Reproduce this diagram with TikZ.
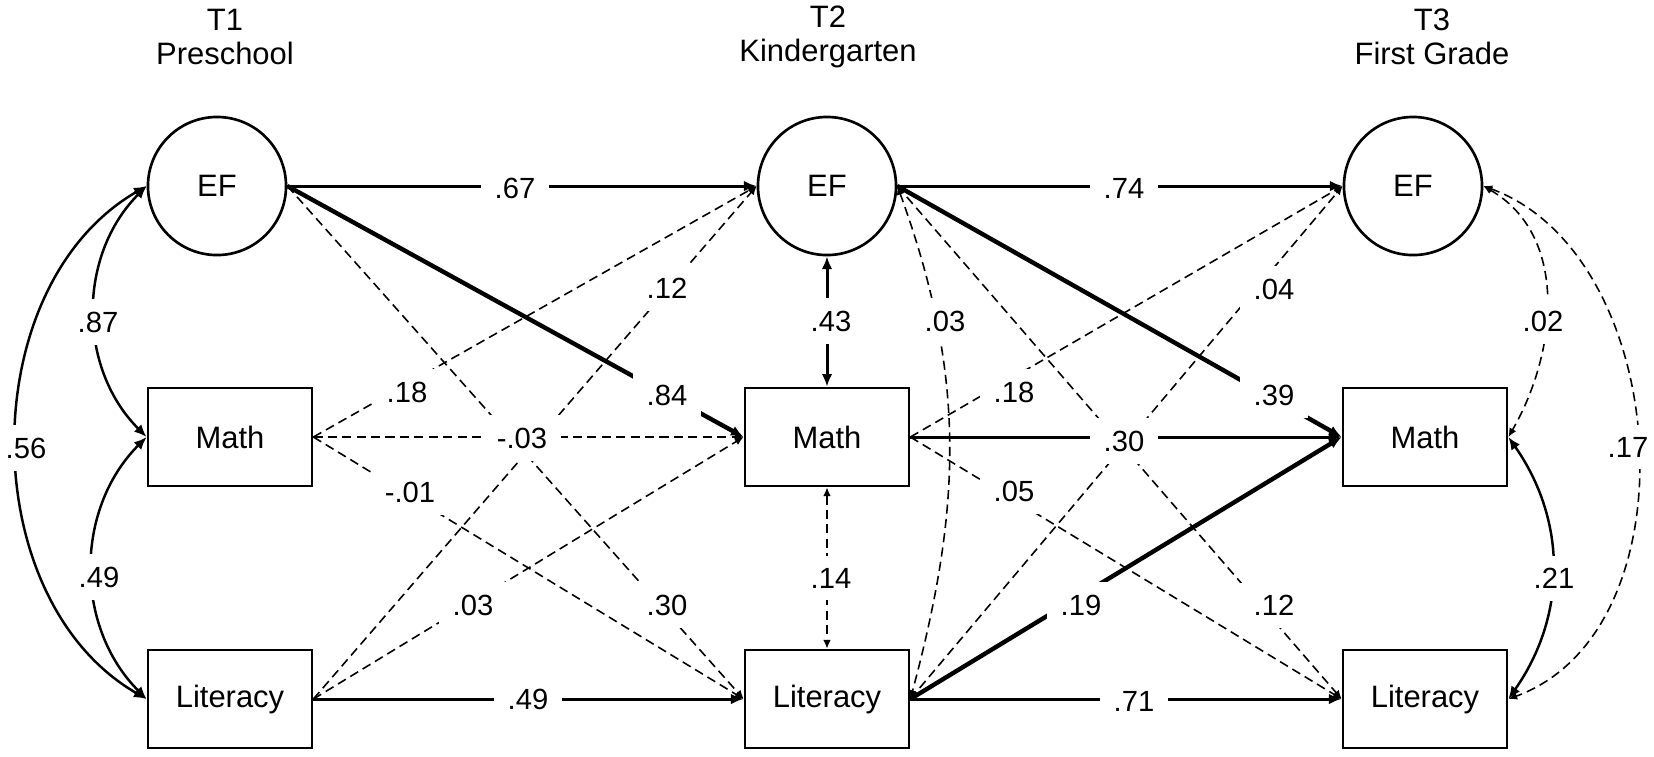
\documentclass[tikz,border=0pt]{standalone}
\usepackage{fontspec}
\setmainfont{Liberation Sans}
\usetikzlibrary{arrows.meta}
\usetikzlibrary{shapes}
\tikzstyle{latent}=[circle,draw,line width=0.75pt,minimum size=1.38cm,inner sep=0pt,font=\fontsize{8.8}{9.7}\selectfont]
\tikzstyle{observed}=[rectangle,draw,line width=0.75pt,minimum width=1.64cm,minimum height=0.98cm,inner sep=0pt,font=\fontsize{8.8}{9.7}\selectfont]
\tikzstyle{wave}=[align=center,inner sep=0pt,font=\fontsize{8.8}{9.6}\selectfont]
\tikzstyle{solidpath} = [draw,line width=0.85pt,->]
\tikzstyle{boldpath} = [draw,line width=1.25pt,->]
\tikzstyle{dashpath} = [draw,line width=0.45pt,dash pattern=on 2.6pt off 1.5pt,->,>={Latex[length=2.5pt,width=2.2pt]}]
\tikzstyle{covpath} = [draw,line width=0.7pt,<->]
\tikzstyle{coef} = [fill=white,inner xsep=4pt,inner ysep=3.5pt,font=\fontsize{8.3}{9.7}\selectfont]

\begin{document}
\begin{tikzpicture}[x=0.01cm, y=-0.01cm, >={Latex[length=3.6pt,width=3pt]}]
    % page size of the figure
    \useasboundingbox (0,0) rectangle (1654,756);

    % time points
    \foreach \pos/\name/\label in {{(225,37)/T1/{T1\\Preschool}}, {(828,37)/T2/{T2\\Kindergarten}}, {(1432,37)/T3/{T3\\First Grade}}}
        \node[wave] (\name) at \pos {\label};

    % First we draw the variables
    \foreach \pos/\name in {{(217,186)/EF1}, {(827,186)/EF2}, {(1413,186)/EF3}}
        \node[latent] (\name) at \pos {EF};

    \foreach \pos/\name/\label in {{(230,437)/M1/Math}, {(827,437)/M2/Math}, {(1425,437)/M3/Math}, {(230,699)/L1/Literacy}, {(827,699)/L2/Literacy}, {(1425,699)/L3/Literacy}}
        \node[observed] (\name) at \pos {\label};

    % Connect variables with cross-lagged paths
    \foreach \source/\dest in {EF1/EF2, L1/L2, EF2/EF3, M2/M3, L2/L3}
        \path[solidpath] (\source.east) -- (\dest.west);
    \foreach \source/\dest in {EF1/M2, EF2/M3, L2/M3}
        \path[boldpath] (\source.east) -- (\dest.west);
    \foreach \source/\dest in {EF1/L2, M1/EF2, M1/M2, M1/L2, L1/EF2, L1/M2, EF2/L3, M2/EF3, M2/L3, L2/EF3}
        \path[dashpath] (\source.east) -- (\dest.west);

    % covariances
    \path[covpath] (EF1.west) to[out=225,in=135] (M1.west);
    \path[covpath] (M1.west) to[out=225,in=135] (L1.west);
    \path[covpath] (EF1.west) to[out=210,in=150] (L1.west);
    \path[solidpath,<->] (EF2.south) -- (M2.north);
    \path[dashpath,<->] (M2.south) -- (L2.north);
    \path[dashpath,<->] (EF2.east) to[out=-70,in=75] (L2.east);
    \path[dashpath,<->] (EF3.east) to[out=-30,in=60] (M3.east);
    \path[dashpath,<->] (EF3.east) to[out=-20,in=20] (L3.east);
    \path[covpath] (M3.east) to[out=-55,in=55] (L3.east);

    % coefficients
    \foreach \pos/\label [count=\i] in {{(515,188)/.67}, {(667,395)/.84}, {(667,605)/.30}, {(407,392)/.18}, {(522,438)/-.03}, {(410,492)/-.01}, {(667,288)/.12}, {(473,605)/.03}, {(528,699)/.49},
        {(1124,188)/.74}, {(1274,395)/.39}, {(1274,605)/.12}, {(1014,392)/.18}, {(1124,441)/.30}, {(1014,491)/.05}, {(1274,289)/.04}, {(1081,605)/.19}, {(1134,701)/.71},
        {(831,321)/.43}, {(831,578)/.14}, {(945,321)/.03}, {(98,322)/.87}, {(99,577)/.49}, {(26,448)/.56}, {(1543,321)/.02}, {(1554,578)/.21}, {(1628,447)/.17}}
        \node[coef] (c\i) at \pos {\label};

\end{tikzpicture}
\end{document}
